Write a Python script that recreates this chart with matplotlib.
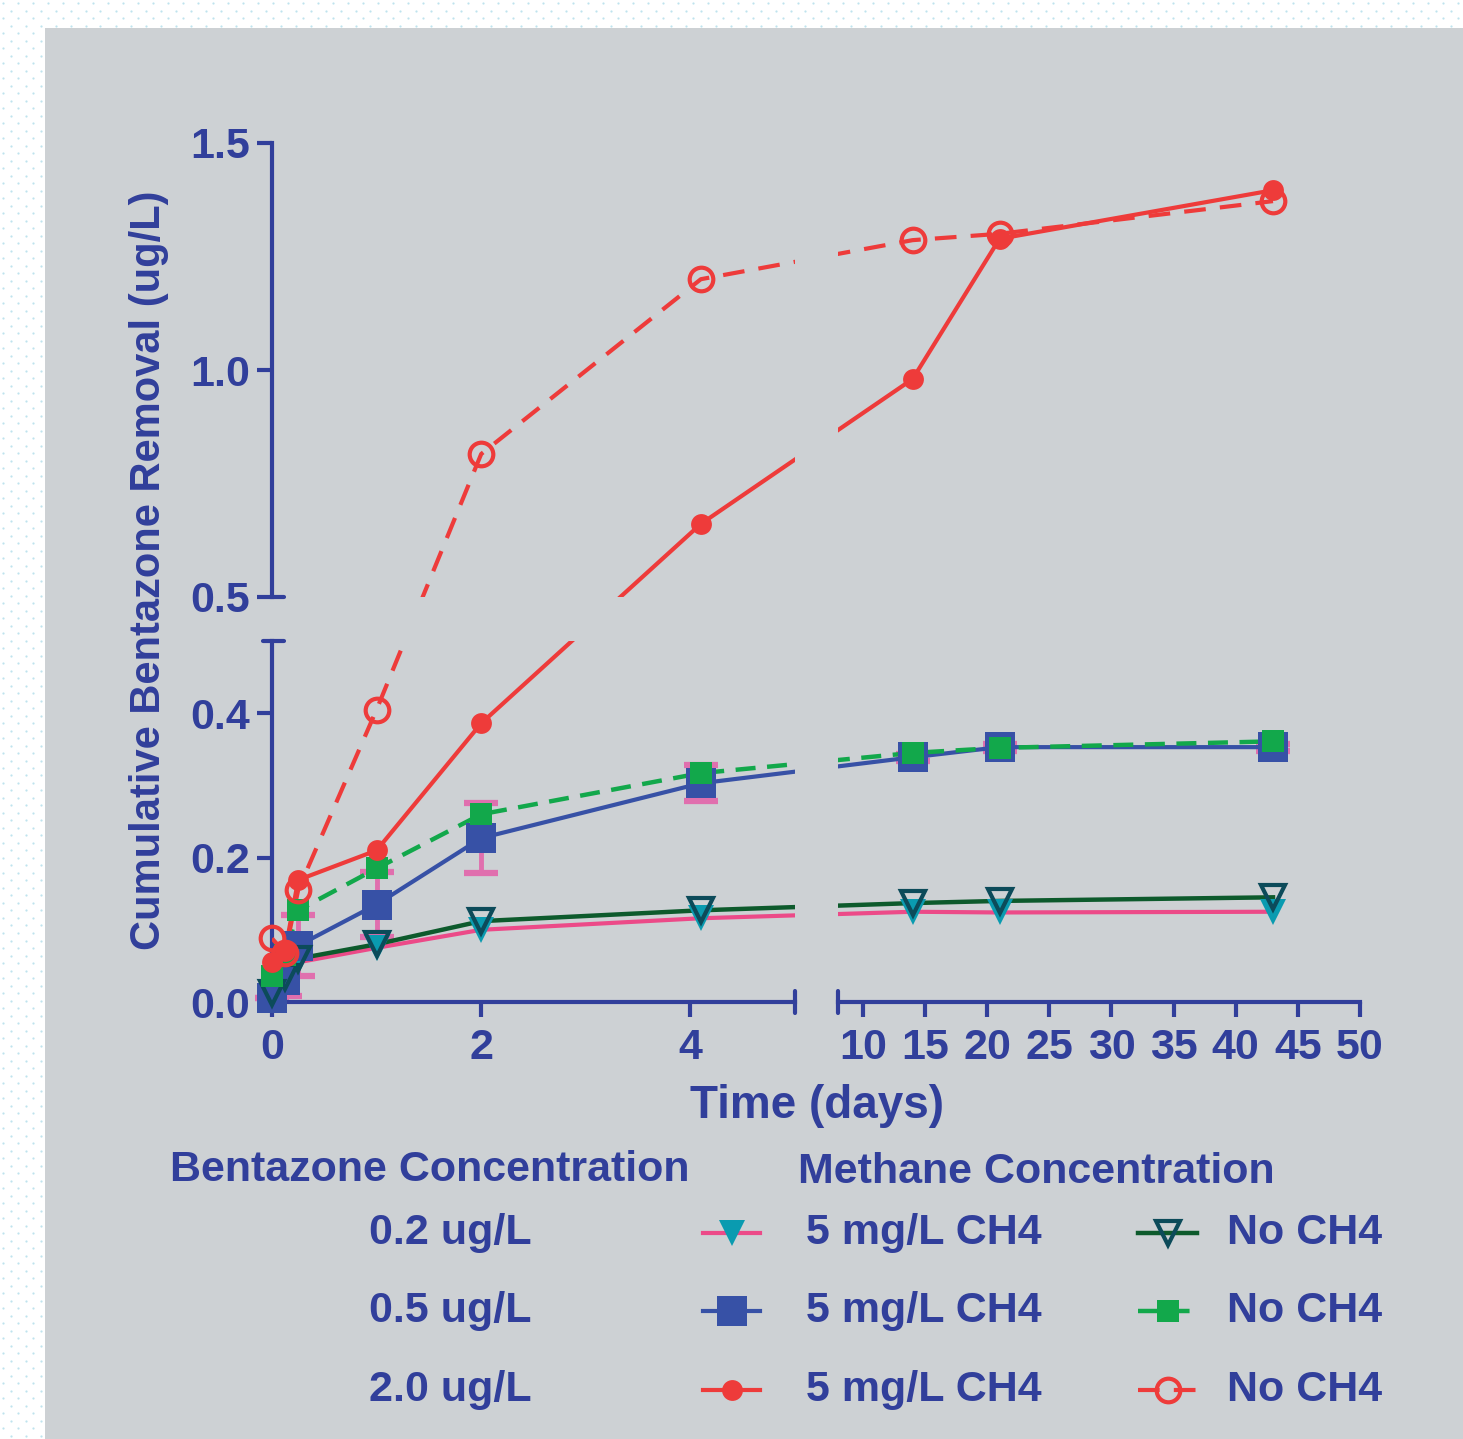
import numpy as np
import matplotlib.pyplot as plt
from matplotlib.lines import Line2D
from matplotlib.patches import Rectangle

plt.rcParams['font.family'] = ['Liberation Sans', 'DejaVu Sans']
plt.rcParams['font.weight'] = 'bold'

# data (days, ug/L)
time = np.array([0, 0.125, 0.25, 1, 2, 4.1, 14, 21, 43])
low_ch4 = np.array([0.010, 0.030, 0.055, 0.075, 0.100, 0.116, 0.125, 0.124, 0.125])
low_none = np.array([0.012, 0.035, 0.060, 0.080, 0.112, 0.127, 0.137, 0.140, 0.145])
mid_ch4 = np.array([0.005, 0.030, 0.078, 0.135, 0.227, 0.303, 0.339, 0.353, 0.353])
mid_ch4_err = np.array([0.0, 0.022, 0.042, 0.045, 0.048, 0.025, 0.005, 0.005, 0.005])
mid_none = np.array([0.036, 0.065, 0.127, 0.185, 0.260, 0.317, 0.345, 0.352, 0.361])
high_ch4 = np.array([0.055, 0.070, 0.169, 0.210, 0.386, 0.661, 0.980, 1.289, 1.396])
high_none = np.array([0.088, 0.068, 0.155, 0.405, 0.815, 1.200, 1.286, 1.300, 1.372])

conc_labels = ['0.2 ug/L', '0.5 ug/L', '2.0 ug/L']
ch4_label = '5 mg/L CH4'
none_label = 'No CH4'

navy = '#313f9b'
pink = '#ec4a88'
teal = '#0a9bb0'
dkgreen = '#0d5a2c'
dkteal = '#0c4b5a'
blue = '#3751a6'
green = '#12a84b'
red = '#ee3b3a'
errpink = '#e06fae'
panel = '#cdd1d4'

series = [
    (low_ch4, dict(color=pink, lw=3, ls='-'),
     dict(marker='v', ms=19, mfc=teal, mec=teal, mew=0)),
    (mid_ch4, dict(color=blue, lw=3, ls='-'),
     dict(marker='s', ms=22, mfc=blue, mec=blue, mew=0)),
    (low_none, dict(color=dkgreen, lw=3.2, ls='-'),
     dict(marker='v', ms=17, mfc='none', mec=dkteal, mew=3)),
    (mid_none, dict(color=green, lw=3.2, ls=(0, (4.5, 2.6))),
     dict(marker='s', ms=16, mfc=green, mec=green, mew=0)),
    (high_ch4, dict(color=red, lw=3, ls='-'),
     dict(marker='o', ms=15, mfc=red, mec=red, mew=0)),
    (high_none, dict(color=red, lw=3, ls=(0, (5.2, 3.4))),
     dict(marker='o', ms=17, mfc='none', mec=red, mew=3)),
]


# broken-axis scales: one continuous "screen" coordinate for both segments
def fwd_x(t):
    t = np.asarray(t, float)
    return np.where(t <= 5, t * 104.6,
                    np.where(t <= 8, 523 + (t - 5) * 43 / 3, 566 + (t - 8) * 522 / 42))


def inv_x(u):
    u = np.asarray(u, float)
    return np.where(u <= 523, u / 104.6,
                    np.where(u <= 566, 5 + (u - 523) * 3 / 43, 8 + (u - 566) * 42 / 522))


def fwd_y(y):
    y = np.asarray(y, float)
    return np.where(y < 0.5, y * 722, 405 + (y - 0.5) * 454)


def inv_y(v):
    v = np.asarray(v, float)
    return np.where(v <= 361, v / 722, np.where(v < 405, 0.5, 0.5 + (v - 405) / 454))


W, H = 1463, 1439
fig = plt.figure(figsize=(W / 100, H / 100), dpi=100)
fig.patch.set_facecolor('white')

# dotted border + grey panel
dx, dy = [], []
for j, yy in enumerate(np.arange(3, H, 7.5)):
    off = 7.5 if j % 2 else 0
    for xx in np.arange(3 + off, W, 15):
        if yy < 26 or xx < 43:
            dx.append(xx / W)
            dy.append(1 - yy / H)
fig.add_artist(Line2D(dx, dy, ls='none', marker='o', ms=1.6, color='#bfe3ee',
                      mew=0, transform=fig.transFigure))
fig.add_artist(Rectangle((45 / W, 0), 1 - 45 / W, 1 - 28 / H, transform=fig.transFigure,
                         facecolor=panel, edgecolor='none', zorder=0))


def px_axes(x0, x1, ytop, ybot):
    return fig.add_axes([x0 / W, 1 - ybot / H, (x1 - x0) / W, (ybot - ytop) / H])


ax_ll = px_axes(272, 795, 641, 1002)
ax_ul = px_axes(272, 795, 143, 597)
ax_lr = px_axes(838, 1360, 641, 1002)
ax_ur = px_axes(838, 1360, 143, 597)

lo_top = 0.5 - 1e-9
limits = {ax_ll: ((0, 5), (0, lo_top)), ax_ul: ((0, 5), (0.5, 1.5)),
          ax_lr: ((8, 50), (0, lo_top)), ax_ur: ((8, 50), (0.5, 1.5))}

for ax, (xl, yl) in limits.items():
    ax.set_xscale('function', functions=(fwd_x, inv_x))
    ax.set_yscale('function', functions=(fwd_y, inv_y))
    ax.set_facecolor('none')
    ax.set_xlim(xl)
    ax.set_ylim(yl)
    for s in ax.spines.values():
        s.set_visible(False)
        s.set_color(navy)
        s.set_linewidth(3)
    ax.tick_params(colors=navy, width=3, length=11, labelsize=31, pad=5)
    ax.set_xticks([])
    ax.set_yticks([])
    ax.minorticks_off()

    xin = (time >= xl[0]) & (time <= xl[1])
    if yl[0] == 0:
        m = xin & (mid_ch4 < 0.5)
        eb = ax.errorbar(time[m], mid_ch4[m], yerr=mid_ch4_err[m], fmt='none',
                         ecolor=errpink, elinewidth=3.5, capsize=12, capthick=4.5, zorder=2)
        for art in eb.lines[1] + eb.lines[2]:
            art.set_clip_on(False)
    for vals, lkw, mkw in series:
        ax.plot(time, vals, zorder=3, **lkw)
        yin = vals < 0.5 if yl[0] == 0 else vals >= 0.5
        m = xin & yin
        ax.plot(time[m], vals[m], ls='none', clip_on=False, zorder=4, **mkw)

# axes decoration
ax_ll.spines['left'].set_visible(True)
ax_ll.spines['bottom'].set_visible(True)
ax_ll.set_yticks([0, 0.2, 0.4])
ax_ll.set_yticklabels(['0.0', '0.2', '0.4'])
ax_ll.set_xticks([0, 2, 4])
ax_ll.set_xticklabels(['0', '2', '4'])

ax_ul.spines['left'].set_visible(True)
ax_ul.set_yticks([0.5, 1.0, 1.5])
ax_ul.set_yticklabels(['0.5', '1.0', '1.5'])

ax_lr.spines['bottom'].set_visible(True)
ax_lr.set_xticks([10, 15, 20, 25, 30, 35, 40, 45, 50])
ax_lr.set_xticklabels(['10', '15', '20', '25', '30', '35', '40', '45', '50'])

for ax in (ax_ll, ax_ul, ax_lr):
    ax.tick_params(axis='x', pad=8)
    for lab in ax.get_xticklabels() + ax.get_yticklabels():
        lab.set_fontweight('bold')
        lab.set_color(navy)

# break caps
cap = dict(color=navy, lw=3, solid_capstyle='round', clip_on=False)
ax_ul.plot([0, 0.023], [0, 0], transform=ax_ul.transAxes, **cap)
ax_ll.plot([-0.017, 0.023], [1, 1], transform=ax_ll.transAxes, **cap)
ax_ll.plot([1, 1], [-0.03, 0.03], transform=ax_ll.transAxes, **cap)
ax_lr.plot([0, 0], [-0.03, 0.03], transform=ax_lr.transAxes, **cap)

fig.text(149 / W, 1 - 570 / H, 'Cumulative Bentazone Removal (ug/L)', rotation=90,
         ha='center', va='center', fontsize=30, color=navy, fontweight='bold')
fig.text(817 / W, 1 - 1106 / H, 'Time (days)', ha='center', va='center',
         fontsize=33, color=navy, fontweight='bold')

# legend
fig.text(430 / W, 1 - 1170 / H, 'Bentazone Concentration', ha='center', va='center',
         fontsize=31, color=navy, fontweight='bold')
fig.text(1036 / W, 1 - 1172 / H, 'Methane Concentration', ha='center', va='center',
         fontsize=31, color=navy, fontweight='bold')

rows = [1233, 1311, 1390]
pairs = [(series[0], series[2]), (series[1], series[3]), (series[4], series[5])]
for r, lab, (s_ch4, s_none) in zip(rows, conc_labels, pairs):
    yf = 1 - r / H
    fig.text(450 / W, yf, lab, ha='center', va='center', fontsize=31,
             color=navy, fontweight='bold')
    for (vals, lkw, mkw), x0, x1, tx, txt in ((s_ch4, 703, 760, 806, ch4_label),
                                             (s_none, 1138, 1197, 1227, none_label)):
        fig.add_artist(Line2D([x0 / W, x1 / W], [yf, yf], transform=fig.transFigure, **lkw))
        fig.add_artist(Line2D([(x0 + x1) / 2 / W], [yf], ls='none',
                              transform=fig.transFigure, **mkw))
        fig.text(tx / W, yf, txt, ha='left', va='center', fontsize=31,
                 color=navy, fontweight='bold')

fig.savefig('out.png', dpi=100, facecolor=fig.get_facecolor())
